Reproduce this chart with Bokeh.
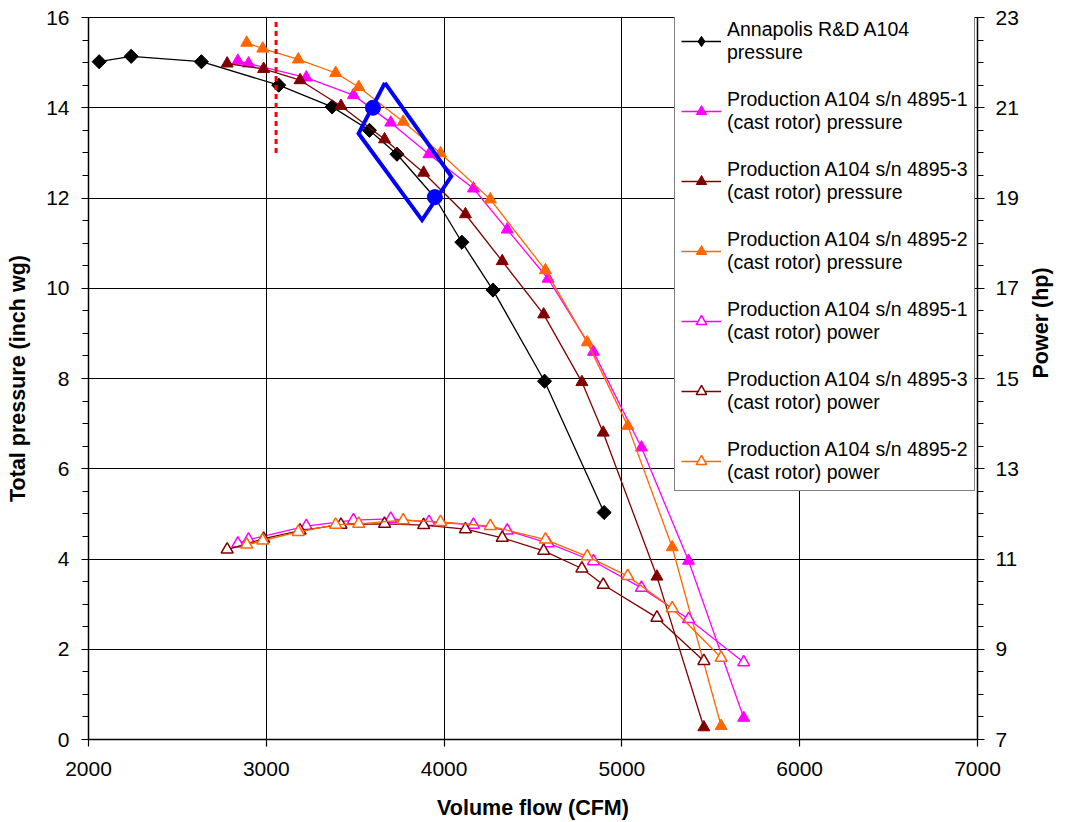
import math
from bokeh.plotting import figure
from bokeh.models import (Range1d, LinearAxis, FixedTicker, Legend, LegendItem, ColumnDataSource)
from bokeh.embed import file_html
from bokeh.resources import INLINE

# ---- data ----
annap_x = [2060, 2240, 2635, 3070, 3370, 3580, 3735, 3950, 4100, 4275, 4565, 4900]
annap_p = [15.02, 15.14, 15.02, 14.5, 14.02, 13.5, 12.97, 12.0, 11.02, 9.96, 7.94, 5.03]

sn1_x = [2840, 2900, 3225, 3490, 3700, 3915, 4165, 4355, 4585, 4840, 5110, 5375, 5685]
sn1_p = [15.04, 14.98, 14.67, 14.28, 13.67, 12.97, 12.21, 11.3, 10.21, 8.59, 6.47, 3.96, 0.48]
sn1_hp = [11.34, 11.43, 11.73, 11.86, 11.89, 11.82, 11.76, 11.63, 11.35, 10.95, 10.36, 9.67, 8.71]

sn3_x = [2780, 2985, 3190, 3420, 3665, 3885, 4120, 4327, 4560, 4775, 4895, 5197, 5461]
sn3_p = [14.98, 14.86, 14.61, 14.04, 13.3, 12.56, 11.64, 10.6, 9.42, 7.92, 6.8, 3.61, 0.27]
sn3_hp = [11.21, 11.45, 11.63, 11.76, 11.78, 11.75, 11.66, 11.47, 11.18, 10.79, 10.43, 9.70, 8.74]

sn2_x = [2890, 2980, 3180, 3390, 3520, 3770, 3980, 4260, 4570, 4805, 5033, 5283, 5558]
sn2_p = [15.44, 15.31, 15.07, 14.77, 14.46, 13.69, 12.99, 11.97, 10.4, 8.8, 6.95, 4.26, 0.30]
sn2_hp = [11.32, 11.41, 11.60, 11.76, 11.78, 11.86, 11.82, 11.73, 11.43, 11.06, 10.62, 9.91, 8.81]

# blue annotation: operating points and box
op_x = [3600, 3948]
op_p = [14.0, 12.02]
box_x = [3667, 4040, 3876, 3519, 3667]
box_p = [14.55, 12.48, 11.51, 13.43, 14.55]

# red dotted marker line
mark_x = [3055, 3055]
mark_p = [13.0, 16.0]

x_ticks = [2000, 3000, 4000, 5000, 6000, 7000]
p_ticks = [0, 2, 4, 6, 8, 10, 12, 14, 16]
hp_ticks = [7, 9, 11, 13, 15, 17, 19, 21, 23]

FONT = "Liberation Sans"

p = figure(width=1068, height=822, output_backend="svg", toolbar_location=None,
           x_range=Range1d(2000, 7000), y_range=Range1d(0, 16),
           min_border_left=88, min_border_right=91, min_border_top=17, min_border_bottom=83)
p.extra_y_ranges = {"hp": Range1d(7, 23)}

p.outline_line_color = "black"
p.outline_line_width = 1
p.background_fill_color = "white"
p.border_fill_color = "white"

p.xaxis.ticker = FixedTicker(ticks=x_ticks, minor_ticks=[])
p.yaxis.ticker = FixedTicker(ticks=p_ticks, minor_ticks=[i * 0.5 for i in range(33)])
p.xgrid.ticker = FixedTicker(ticks=x_ticks)
p.ygrid.ticker = FixedTicker(ticks=p_ticks)
p.xgrid.grid_line_color = "black"
p.ygrid.grid_line_color = "black"
p.xgrid.grid_line_width = 1
p.ygrid.grid_line_width = 1

left = p.yaxis[0]
bottom = p.xaxis[0]
right = LinearAxis(y_range_name="hp", axis_label="Power (hp)",
                   ticker=FixedTicker(ticks=hp_ticks, minor_ticks=[7 + i * 0.5 for i in range(33)]))
p.add_layout(right, "right")

for ax in [bottom, left, right]:
    ax.axis_line_color = "black"
    ax.axis_line_width = 1.5
    ax.major_tick_line_color = "black"
    ax.minor_tick_line_color = "black"
    ax.major_tick_line_width = 1.2
    ax.minor_tick_line_width = 1.2
    ax.major_tick_in = 0
    ax.major_tick_out = 7
    ax.minor_tick_in = 0
    ax.minor_tick_out = 6
    ax.major_label_text_font = FONT
    ax.major_label_text_font_size = "21px"
    ax.major_label_text_color = "black"
    ax.axis_label_text_font = FONT
    ax.axis_label_text_font_size = "21.5px"
    ax.axis_label_text_font_style = "bold"
    ax.axis_label_text_color = "black"

bottom.axis_label = "Volume flow (CFM)"
left.axis_label = "Total pressure (inch wg)"
right.axis_label_orientation = math.pi / 2
bottom.major_label_standoff = 15
left.major_label_standoff = 12
right.major_label_standoff = 11
bottom.axis_label_standoff = 17
left.axis_label_standoff = 13
right.axis_label_standoff = 19

MAG = "#FF00FF"
DRED = "#800000"
ORG = "#FF6600"

items = []

annap_src = ColumnDataSource(dict(x=annap_x, y=annap_p, ang=[math.pi / 4] * len(annap_x)))
l = p.line("x", "y", source=annap_src, color="black", line_width=1.3)
# diamond (shown in the legend) hidden underneath the rotated squares on the plot
d = p.scatter("x", "y", source=annap_src, marker="diamond", size=13, color="black")
s = p.scatter("x", "y", source=annap_src, marker="square", angle="ang", size=10, color="black")
items.append(LegendItem(label="Annapolis R&D A104\npressure", renderers=[l, d]))

for xs, ys, col, name in [(sn1_x, sn1_p, MAG, "4895-1"), (sn3_x, sn3_p, DRED, "4895-3"),
                          (sn2_x, sn2_p, ORG, "4895-2")]:
    l = p.line(xs, ys, color=col, line_width=1.3)
    s = p.scatter(xs, ys, marker="triangle", size=12, color=col)
    items.append(LegendItem(label="Production A104 s/n " + name + "\n(cast rotor) pressure",
                            renderers=[l, s]))

for xs, ys, col, name in [(sn1_x, sn1_hp, MAG, "4895-1"), (sn3_x, sn3_hp, DRED, "4895-3"),
                          (sn2_x, sn2_hp, ORG, "4895-2")]:
    l = p.line(xs, ys, color=col, line_width=1.3, y_range_name="hp")
    s = p.scatter(xs, ys, marker="triangle", size=12, line_color=col, line_width=1.5,
                  fill_color="white", y_range_name="hp")
    items.append(LegendItem(label="Production A104 s/n " + name + "\n(cast rotor) power",
                            renderers=[l, s]))

# annotations
p.line(box_x, box_p, color="#0000FF", line_width=4, line_join="miter")
p.scatter(op_x, op_p, marker="circle", size=15, color="#0000FF")
p.line(mark_x, mark_p, color="#FF0000", line_width=3, line_dash="5 4")

legend = Legend(items=items, location=(586, 248))
legend.label_text_font = FONT
legend.label_text_font_size = "19.5px"
legend.label_text_color = "black"
legend.label_text_line_height = 1.36
legend.glyph_width = 40
legend.glyph_height = 26
legend.label_standoff = 6
legend.spacing = 24
legend.padding = 6
legend.margin = 0
legend.border_line_color = "black"
legend.border_line_width = 1
legend.background_fill_color = "white"
legend.background_fill_alpha = 1
p.add_layout(legend)

open("out.html", "w").write(file_html(p, INLINE))
